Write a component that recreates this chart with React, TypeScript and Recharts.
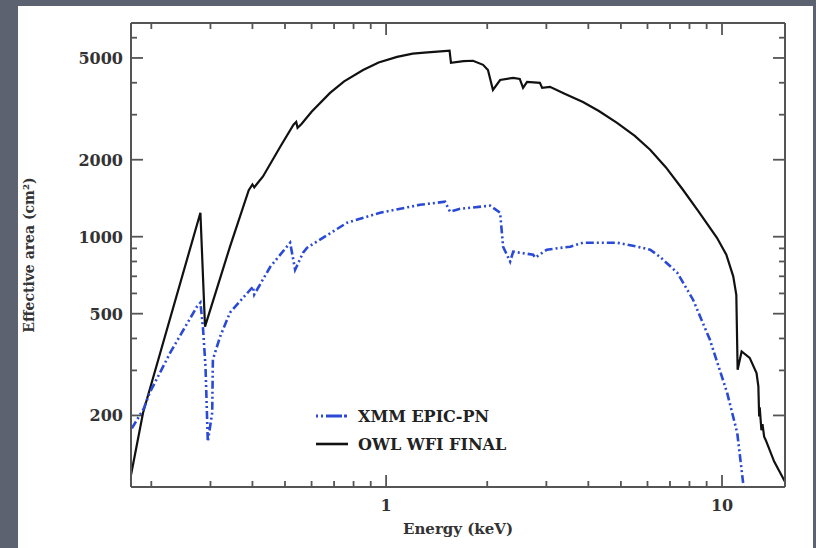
import React from "react";
import { LineChart, Line, XAxis, YAxis, ReferenceLine } from "recharts";

// OWL WFI FINAL (black, solid)
const owlEnergy = [
  0.174, 0.189, 0.28, 0.289, 0.343, 0.39, 0.4, 0.405, 0.43, 0.484, 0.53, 0.54,
  0.545, 0.56, 0.6, 0.681, 0.75, 0.854, 0.95, 1.078, 1.2, 1.3, 1.519, 1.545,
  1.56, 1.7, 1.815, 1.944, 2.01, 2.08, 2.185, 2.39, 2.5, 2.557, 2.628, 2.87,
  2.914, 3.075, 3.4, 3.855, 4.3, 4.87, 5.5, 6.11, 6.8, 7.65, 8.5, 9.66, 10.3,
  10.8, 11.03, 11.13, 11.44, 12.09, 12.67, 12.83, 12.9, 12.95, 13.1, 13.2,
  13.35, 13.5, 14.3, 15.4,
];
const owlArea = [
  117, 205, 1240, 445, 915, 1520, 1600, 1560, 1720, 2248, 2740, 2812, 2665,
  2760, 3080, 3651, 4050, 4487, 4800, 5050, 5200, 5250, 5333, 5340, 4786,
  4860, 4876, 4700, 4487, 3750, 4100, 4180, 4140, 3818, 4030, 3995, 3818,
  3855, 3620, 3364, 3100, 2786, 2480, 2187, 1870, 1526, 1260, 990, 850, 700,
  593, 302, 356, 336, 293, 260, 198, 215, 175, 185, 165, 160, 132, 110,
];

// XMM EPIC-PN (blue, dash-dot-dot)
const xmmEnergy = [
  0.175, 0.19, 0.198, 0.2277, 0.2735, 0.28, 0.285, 0.29, 0.2946, 0.3036,
  0.305, 0.3206, 0.343, 0.4017, 0.405, 0.452, 0.518, 0.536, 0.566, 0.582,
  0.765, 0.96, 1.262, 1.498, 1.55, 1.66, 2.04, 2.185, 2.23, 2.34, 2.39, 2.74,
  2.78, 3.01, 3.53, 3.855, 4.87, 5.6, 6.11, 6.53, 7.36, 8.2, 9.2, 10.35, 11.1,
  11.7,
];
const xmmArea = [
  178, 213, 246, 352, 533, 552, 440, 310, 158, 205, 331, 407, 505, 638, 594,
  763, 947, 743, 866, 906, 1134, 1241, 1333, 1370, 1252, 1286, 1322, 1241,
  914, 799, 874, 850, 828, 890, 914, 947, 947, 914, 890, 835, 723, 567, 396,
  246, 171, 95,
];

const xMajorTicks = [1, 10];
const xMinorTicks = [
  0.2, 0.3, 0.4, 0.5, 0.6, 0.7, 0.8, 0.9, 2, 3, 4, 5, 6, 7, 8, 9,
];
const yMajorTicks = [200, 500, 1000, 2000, 5000];
const yMinorTicks = [300, 400, 600, 700, 800, 900, 3000, 4000, 6000];

const seriesNames = ["XMM EPIC-PN", "OWL WFI FINAL"];
const xTitle = "Energy (keV)";
const yTitle = "Effective area (cm²)";

const owlData = owlEnergy.map((e, i) => ({ e, a: owlArea[i] }));
const xmmData = xmmEnergy.map((e, i) => ({ e, a: xmmArea[i] }));

const xTicks = [...xMinorTicks, ...xMajorTicks].sort((a, b) => a - b);
const yTicks = [...yMinorTicks, ...yMajorTicks].sort((a, b) => a - b);

const FONT = "DejaVu Serif, Liberation Serif, serif";
const AXIS = "#555";
const TEXT = "#333";
const BLUE = "#2a4ad6";

const xDomain = [0.174, 15.4];
const yDomain = [105, 6850];

const CHART_W = 795;
const CHART_H = 542;
const MARGIN = { top: 7, right: 18, bottom: 31, left: 53 };
const AX = { bottom: 30, top: 10, left: 60, right: 10 };
const PLOT_W = CHART_W - MARGIN.left - MARGIN.right - AX.left - AX.right;
const PLOT_H = CHART_H - MARGIN.top - MARGIN.bottom - AX.top - AX.bottom;

// ratio along a log axis that spans `px` pixels, so tick marks are drawn
// as short segments through the chart's own scales
const xStep = (px: number) => (xDomain[1] / xDomain[0]) ** (px / PLOT_W);
const yStep = (px: number) => (yDomain[1] / yDomain[0]) ** (px / PLOT_H);

function XLabel({ x, y, payload }: any) {
  if (!xMajorTicks.includes(payload.value)) return <g />;
  return (
    <text x={x} y={y + 24} textAnchor="middle" fontFamily={FONT} fontWeight="bold" fontSize={16} fill={TEXT}>
      {payload.value}
    </text>
  );
}

function YLabel({ x, y, payload }: any) {
  if (!yMajorTicks.includes(payload.value)) return <g />;
  return (
    <text x={x - 8} y={y + 6} textAnchor="end" fontFamily={FONT} fontWeight="bold" fontSize={16} fill={TEXT}>
      {payload.value}
    </text>
  );
}

function tickMarks() {
  const marks: React.ReactNode[] = [];
  const common = {
    xAxisId: "bottom",
    yAxisId: "left",
    stroke: AXIS,
    strokeWidth: 1.8,
    ifOverflow: "visible" as const,
  };
  xTicks.forEach((v) => {
    const len = xMajorTicks.includes(v) ? 12 : 6;
    marks.push(
      <ReferenceLine key={`xb${v}`} {...common} segment={[{ x: v, y: yDomain[0] }, { x: v, y: yDomain[0] * yStep(len) }]} />,
      <ReferenceLine key={`xt${v}`} {...common} segment={[{ x: v, y: yDomain[1] }, { x: v, y: yDomain[1] / yStep(len) }]} />
    );
  });
  yTicks.forEach((v) => {
    const len = yMajorTicks.includes(v) ? 12 : 6;
    marks.push(
      <ReferenceLine key={`yl${v}`} {...common} segment={[{ x: xDomain[0], y: v }, { x: xDomain[0] * xStep(len), y: v }]} />,
      <ReferenceLine key={`yr${v}`} {...common} segment={[{ x: xDomain[1], y: v }, { x: xDomain[1] / xStep(len), y: v }]} />
    );
  });
  return marks;
}

export default function App() {
  return (
    <div
      style={{
        position: "absolute",
        left: 0,
        top: 0,
        width: 816,
        height: 548,
        background: "#5d6271",
        overflow: "hidden",
        boxSizing: "border-box",
        paddingLeft: 18,
        paddingTop: 6,
      }}
    >
      <div style={{ width: CHART_W, height: 560, background: "#fff" }}>
        <LineChart width={CHART_W} height={CHART_H} margin={MARGIN}>
          <XAxis
            xAxisId="bottom"
            dataKey="e"
            type="number"
            scale="log"
            domain={xDomain}
            allowDataOverflow
            ticks={xTicks}
            interval={0}
            height={AX.bottom}
            tickSize={0}
            tickMargin={0}
            tickLine={false}
            tick={(p: any) => <XLabel {...p} />}
            axisLine={{ stroke: AXIS, strokeWidth: 2 }}
          />
          <XAxis
            xAxisId="top"
            orientation="top"
            dataKey="e"
            type="number"
            scale="log"
            domain={xDomain}
            allowDataOverflow
            ticks={xTicks}
            height={AX.top}
            tickLine={false}
            tick={false}
            axisLine={{ stroke: AXIS, strokeWidth: 2 }}
          />
          <YAxis
            yAxisId="left"
            type="number"
            scale="log"
            domain={yDomain}
            allowDataOverflow
            ticks={yTicks}
            interval={0}
            width={AX.left}
            tickSize={0}
            tickMargin={0}
            tickLine={false}
            tick={(p: any) => <YLabel {...p} />}
            axisLine={{ stroke: AXIS, strokeWidth: 2 }}
          />
          <YAxis
            yAxisId="right"
            orientation="right"
            type="number"
            scale="log"
            domain={yDomain}
            allowDataOverflow
            ticks={yTicks}
            width={AX.right}
            tickLine={false}
            tick={false}
            axisLine={{ stroke: AXIS, strokeWidth: 2 }}
          />
          {tickMarks()}
          <Line
            data={owlData}
            xAxisId="bottom"
            yAxisId="left"
            dataKey="a"
            type="linear"
            stroke="#111"
            strokeWidth={2.2}
            dot={false}
            isAnimationActive={false}
          />
          <Line
            data={xmmData}
            xAxisId="bottom"
            yAxisId="left"
            dataKey="a"
            type="linear"
            stroke={BLUE}
            strokeWidth={2.6}
            strokeDasharray="8 3 2 3 2 3"
            dot={false}
            isAnimationActive={false}
          />
        </LineChart>
      </div>
      <svg width={816} height={548} style={{ position: "absolute", left: 0, top: 0, pointerEvents: "none" }}>
        <text x={458} y={534} textAnchor="middle" fontFamily={FONT} fontWeight="bold" fontSize={15} fill={TEXT}>
          {xTitle}
        </text>
        <text x={34} y={255} textAnchor="middle" transform="rotate(-90 34 255)" fontFamily={FONT} fontWeight="bold" fontSize={14} fill={TEXT}>
          {yTitle}
        </text>
      </svg>
      <div style={{ position: "absolute", left: 315, top: 402, fontFamily: FONT, fontWeight: "bold", fontSize: 16, color: "#222" }}>
        {seriesNames.map((name, i) => (
          <div key={name} style={{ display: "flex", alignItems: "center", height: 28 }}>
            <svg width={34} height={10} style={{ marginRight: 9 }}>
              {i === 0 ? (
                <line x1={1} y1={5} x2={33} y2={5} stroke={BLUE} strokeWidth={3} strokeDasharray="2 3 2 3 16" />
              ) : (
                <line x1={1} y1={5} x2={33} y2={5} stroke="#111" strokeWidth={2.6} />
              )}
            </svg>
            <span>{name}</span>
          </div>
        ))}
      </div>
    </div>
  );
}
